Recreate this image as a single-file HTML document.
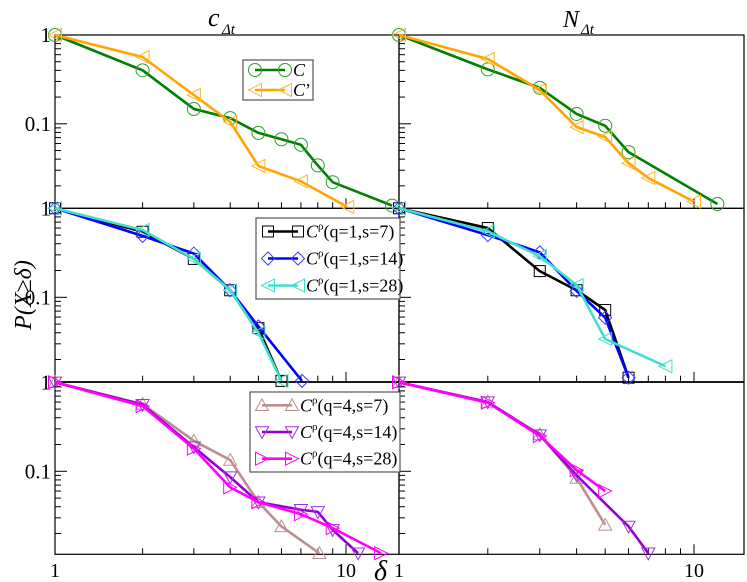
<!DOCTYPE html>
<html><head><meta charset="utf-8"><style>
body{margin:0;background:#fff}
svg{display:block;font-family:"Liberation Serif","DejaVu Serif",serif}
</style></head><body>
<svg id="c" width="747" height="582" viewBox="0 0 747 582" xmlns="http://www.w3.org/2000/svg">
<text x="208" y="26" font-size="26" font-style="italic">c</text>
<text x="222" y="34" font-size="15" font-style="italic">Δt</text>
<text x="563" y="27" font-size="24" font-style="italic">N</text>
<text x="581" y="34" font-size="15" font-style="italic">Δt</text>
<text transform="translate(31,295) rotate(-90)" text-anchor="middle" font-size="24" font-style="italic">P(X≥δ)</text>
<text x="374" y="580" font-size="28" font-style="italic">δ</text>
<g id="g"></g>
</svg>
<script>
// ---- data (x = delta, y = P(X>=delta)) ----
const topC_x=[1,2,3,4,5,6,7,8,9,14.4], topC_y=[1,0.40,0.147,0.116,0.079,0.067,0.058,0.034,0.022,0.012];
const topCp_x=[1,2,3,4,5,7,10.1], topCp_y=[1,0.565,0.211,0.105,0.0335,0.0225,0.0116];
const topNC_x=[1,2,3,4,5,6,12], topNC_y=[1,0.41,0.254,0.129,0.095,0.048,0.0125];
const topNCp_x=[1,2,3,4,5,6,7,10], topNCp_y=[1,0.537,0.24,0.092,0.071,0.036,0.0245,0.0133];
const m7_x=[1,2,3,4,5,6], m7_y=[1,0.545,0.27,0.12,0.045,0.0115];
const m14_x=[1,2,3,4,5,7.06], m14_y=[1,0.49,0.31,0.12,0.047,0.0115];
const m28_x=[1,2,3,4,5,6], m28_y=[1,0.57,0.27,0.12,0.04,0.0115];
const mN7_x=[1,2,3,4,5,6], mN7_y=[1,0.60,0.197,0.12,0.072,0.0125];
const mN14_x=[1,2,3,4,5,6], mN14_y=[1,0.50,0.32,0.118,0.059,0.0125];
const mN28_x=[1,2,3,4,5,8], mN28_y=[1,0.55,0.29,0.137,0.034,0.0168];
const b7_x=[1,2,3,4,5,6,8.1], b7_y=[1,0.57,0.22,0.134,0.045,0.024,0.012];
const b14_x=[1,2,3,4,5,7,8,9,11], b14_y=[1,0.56,0.187,0.086,0.045,0.037,0.035,0.022,0.012];
const b28_x=[1,2,3,4,5,7,9,13.2], b28_y=[1,0.54,0.18,0.066,0.045,0.033,0.023,0.012];
const bN7_x=[1,2,3,4,5], bN7_y=[1,0.6,0.26,0.084,0.025];
const bN14_x=[1,2,3,4,6,7], bN14_y=[1,0.6,0.255,0.09,0.024,0.012];
const bN28_x=[1,2,3,4,5], bN28_y=[1,0.59,0.25,0.103,0.06];
const xTickLabels=["1","10"], yTickLabels=["1","0.1"];

const NS="http://www.w3.org/2000/svg", G=document.getElementById('g');
function mk(t,a,p){const e=document.createElementNS(NS,t);for(const k in a)e.setAttribute(k,a[k]);(p||G).appendChild(e);return e;}
const cols=[{x0:55,x1:399,dec:291},{x0:399,x1:744,dec:295}];
const rows=[{y0:35,y1:208.3,dec:88.8},{y0:208.3,y1:381.7,dec:89},{y0:382.3,y1:554.3,dec:89}];
function sx(c,v){return cols[c].x0+Math.log10(v)*cols[c].dec;}
function sy(r,v){return rows[r].y0-Math.log10(v)*rows[r].dec;}

function marker(g,type,x,y,color){
  const s=6.5;let e;
  if(type==='circle')e=mk('circle',{cx:x,cy:y,r:s,fill:'none',stroke:color,'stroke-width':1},g);
  else if(type==='square')e=mk('rect',{x:x-s+1,y:y-s+1,width:2*s-2,height:2*s-2,fill:'none',stroke:color,'stroke-width':1},g);
  else{let p;
    if(type==='diamond')p=[[x,y-s],[x+s,y],[x,y+s],[x-s,y]];
    if(type==='left')p=[[x-s,y],[x+s,y-s],[x+s,y+s]];
    if(type==='right')p=[[x+s,y],[x-s,y-s],[x-s,y+s]];
    if(type==='up')p=[[x,y-s],[x+s,y+s*0.8],[x-s,y+s*0.8]];
    if(type==='down')p=[[x,y+s],[x+s,y-s*0.8],[x-s,y-s*0.8]];
    e=mk('polygon',{points:p.map(q=>q.join(',')).join(' '),fill:'none',stroke:color,'stroke-width':1},g);}
  
  
}
function series(c,r,xs,ys,color,mcol,type,name){
  const g=mk('g',{});
  
  
  const pts=xs.map((v,i)=>[sx(c,v),sy(r,ys[i])]);
  const l=mk('polyline',{points:pts.map(p=>p.join(',')).join(' '),fill:'none',stroke:color,'stroke-width':2.6,'stroke-linejoin':'round'},g);
  
  
  pts.forEach(p=>marker(g,type,p[0],p[1],mcol));
}
for(let r=0;r<3;r++)for(let c=0;c<2;c++){
  const C=cols[c],R=rows[r];
  const f=mk('rect',{x:C.x0,y:R.y0,width:C.x1-C.x0,height:R.y1-R.y0,fill:'none',stroke:'#000','stroke-width':1.2});
  
  
  for(let d=0;d<2;d++)for(let k=1;k<10;k++){const v=k*Math.pow(10,d);const x=sx(c,v);if(x<=C.x0+0.5||x>C.x1)continue;
    const len=(k===1)?10:6;const t=mk('line',{x1:x,x2:x,y1:R.y1,y2:R.y1-len,stroke:'#000','stroke-width':1});
    
    }
  for(let d=-2;d<0;d++)for(let k=1;k<10;k++){const v=k*Math.pow(10,d);const y=sy(r,v);if(y>R.y1||y<R.y0)continue;
    const len=(k===1)?12:6;const t=mk('line',{x1:C.x0,x2:C.x0+len,y1:y,y2:y,stroke:'#000','stroke-width':1});
    
    }
}
for(let r=0;r<3;r++){
  yTickLabels.forEach((s,i)=>{const t=mk('text',{x:51,y:sy(r,Math.pow(10,-i))+7,'text-anchor':'end','font-size':21});t.textContent=s;
    
    });
}
for(let c=0;c<2;c++)xTickLabels.forEach((s,i)=>{const t=mk('text',{x:sx(c,Math.pow(10,i)),y:577,'text-anchor':'middle','font-size':20});t.textContent=s;
  
  });

const GR='#007f00',GRm='#2ca02c',OR='#ffa500',OR2='#ffb52a';
series(0,0,topC_x,topC_y,GR,GRm,'circle','series-C-left');
series(0,0,topCp_x,topCp_y,OR,OR2,'left','series-Cprime-left');
series(1,0,topNC_x,topNC_y,GR,GRm,'circle','series-C-right');
series(1,0,topNCp_x,topNCp_y,OR,OR2,'left','series-Cprime-right');
series(0,1,m7_x,m7_y,'#000','#000','square','series-q1-s7-left');
series(0,1,m14_x,m14_y,'#0000ff','#3b3bff','diamond','series-q1-s14-left');
series(0,1,m28_x,m28_y,'#40e0d0','#40e0d0','left','series-q1-s28-left');
series(1,1,mN7_x,mN7_y,'#000','#000','square','series-q1-s7-right');
series(1,1,mN14_x,mN14_y,'#0000ff','#3b3bff','diamond','series-q1-s14-right');
series(1,1,mN28_x,mN28_y,'#40e0d0','#40e0d0','left','series-q1-s28-right');
series(0,2,b7_x,b7_y,'#bc8f8f','#bc8f8f','up','series-q4-s7-left');
series(0,2,b14_x,b14_y,'#9400d3','#a030e0','down','series-q4-s14-left');
series(0,2,b28_x,b28_y,'#ff00ff','#ff00ff','right','series-q4-s28-left');
series(1,2,bN7_x,bN7_y,'#bc8f8f','#bc8f8f','up','series-q4-s7-right');
series(1,2,bN14_x,bN14_y,'#9400d3','#a030e0','down','series-q4-s14-right');
series(1,2,bN28_x,bN28_y,'#ff00ff','#ff00ff','right','series-q4-s28-right');

function legend(x,y,w,h,items,name,fs){
  const g=mk('g',{});
  
  
  mk('rect',{x:x,y:y,width:w,height:h,fill:'#fff',stroke:'#555','stroke-width':1.2},g);
  items.forEach((it,i)=>{
    const ly=y+(h/items.length)*(i+0.5);
    mk('line',{x1:x+12,x2:x+42,y1:ly,y2:ly,stroke:it[0],'stroke-width':2.6},g);
    marker(g,it[2],x+12,ly,it[1]);marker(g,it[2],x+42,ly,it[1]);
    const t=mk('text',{x:x+50,y:ly+6,'font-size':fs},g);
    
    
    const a=mk('tspan',{'font-style':'italic'},t);a.textContent='C';
    if(it[4]){const b=mk('tspan',{dy:-8,'font-size':11},t);b.textContent='ρ';const d=mk('tspan',{dy:8},t);d.textContent=it[3];}
    else{const d=mk('tspan',{},t);d.textContent=it[3];}
  });
}
legend(243,60,70,40,[[GR,GRm,'circle','',false],[OR,OR2,'left','\u2019',false]],'legend-top',18);
legend(256,218,144,81,[['#000','#000','square','(q=1,s=7)',true],['#0000ff','#3b3bff','diamond','(q=1,s=14)',true],['#40e0d0','#40e0d0','left','(q=1,s=28)',true]],'legend-middle',18);
legend(250,392,150,80,[['#bc8f8f','#bc8f8f','up','(q=4,s=7)',true],['#9400d3','#a030e0','down','(q=4,s=14)',true],['#ff00ff','#ff00ff','right','(q=4,s=28)',true]],'legend-bottom',18);
</script>
</body></html>
